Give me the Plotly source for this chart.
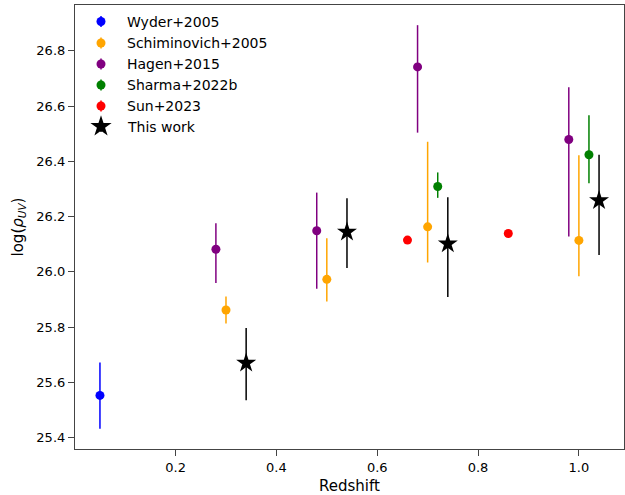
import plotly.graph_objects as go

# UV luminosity density measurements vs redshift
wyder_z = [0.05]
wyder_v = [25.553]
wyder_up = [0.119]
wyder_dn = [0.121]

schim_z = [0.3, 0.5, 0.7, 1.0]
schim_v = [25.862, 25.973, 26.163, 26.114]
schim_up = [0.049, 0.149, 0.308, 0.308]
schim_dn = [0.049, 0.080, 0.129, 0.130]

hagen_z = [0.28, 0.48, 0.68, 0.98]
hagen_v = [26.082, 26.149, 26.742, 26.479]
hagen_up = [0.094, 0.138, 0.151, 0.189]
hagen_dn = [0.122, 0.210, 0.238, 0.351]

sharma_z = [0.72, 1.02]
sharma_v = [26.309, 26.424]
sharma_up = [0.051, 0.143]
sharma_dn = [0.041, 0.103]

sun_z = [0.66, 0.86]
sun_v = [26.115, 26.139]

this_z = [0.34, 0.54, 0.74, 1.04]
this_v = [25.670, 26.144, 26.102, 26.258]
this_up = [0.127, 0.123, 0.168, 0.166]
this_dn = [0.135, 0.130, 0.193, 0.197]

labels = ["Wyder+2005", "Schiminovich+2005", "Hagen+2015",
          "Sharma+2022b", "Sun+2023", "This work"]
colors = ["blue", "orange", "purple", "green", "red", "black"]

W, H = 625, 495
M = dict(l=75, r=1, t=5, b=46)
PW, PH = W - M["l"] - M["r"], H - M["t"] - M["b"]

fig = go.Figure()

DOT = 9
STAR = 15


def add_series(z, v, color, up=None, dn=None, symbol="circle", size=DOT):
    err = None
    if up is not None:
        err = dict(type="data", symmetric=False, array=up, arrayminus=dn,
                   color=color, thickness=1.5, width=0)
    fig.add_trace(go.Scatter(
        x=z, y=v, mode="markers", showlegend=False,
        marker=dict(color=color, symbol=symbol, size=size, line=dict(width=0)),
        error_y=err,
    ))


add_series(wyder_z, wyder_v, colors[0], wyder_up, wyder_dn)
add_series(schim_z, schim_v, colors[1], schim_up, schim_dn)
add_series(hagen_z, hagen_v, colors[2], hagen_up, hagen_dn)
add_series(sharma_z, sharma_v, colors[3], sharma_up, sharma_dn)
add_series(sun_z, sun_v, colors[4])
add_series(this_z, this_v, colors[5], this_up, this_dn, symbol="star", size=STAR)

# Legend drawn on a pixel-scaled overlay axis (origin at plot top-left)
leg_x = 26
leg_text_x = 50
leg_rows = [16.5, 38, 59, 80, 101, 121.5]
for i, (lab, col) in enumerate(zip(labels, colors)):
    is_star = lab == "This work"
    fig.add_trace(go.Scatter(
        x=[leg_x], y=[leg_rows[i]], xaxis="x2", yaxis="y2", mode="markers",
        showlegend=False, hoverinfo="skip",
        marker=dict(color=col, symbol="star" if is_star else "circle",
                    size=STAR + 1 if is_star else DOT, line=dict(width=0)),
        error_y=dict(type="data", symmetric=False, array=[5.5], arrayminus=[5.5],
                     color=col, thickness=1.5, width=0),
    ))
    fig.add_annotation(x=leg_text_x, y=leg_rows[i], xref="x2", yref="y2",
                       text=lab, showarrow=False, xanchor="left", yanchor="middle",
                       font=dict(family="DejaVu Sans", size=14, color="black"))

axis_common = dict(
    showgrid=False, zeroline=False, showline=True, mirror=True,
    linecolor="#444444", linewidth=1.2,
    ticks="outside", ticklen=6, tickwidth=1.2, tickcolor="#444444",
    tickfont=dict(family="DejaVu Sans", size=13, color="black"),
)

fig.update_layout(
    width=W, height=H,
    margin=M,
    paper_bgcolor="white", plot_bgcolor="white",
    font=dict(family="DejaVu Sans", color="black"),
    showlegend=False,
    xaxis=dict(range=[0.0005, 1.0895], tickvals=[0.2, 0.4, 0.6, 0.8, 1.0],
               ticktext=["0.2", "0.4", "0.6", "0.8", "1.0"],
               title=dict(text="Redshift", font=dict(size=15), standoff=6),
               **axis_common),
    yaxis=dict(range=[25.359, 26.966],
               tickvals=[25.4, 25.6, 25.8, 26.0, 26.2, 26.4, 26.6, 26.8],
               ticktext=["25.4", "25.6", "25.8", "26.0", "26.2", "26.4", "26.6", "26.8"],
               title=dict(text="log(<i>ρ</i><sub><i>UV</i></sub>)", font=dict(size=15),
                          standoff=9),
               **axis_common),
    xaxis2=dict(range=[0, PW], overlaying="x", anchor="y2", visible=False,
                fixedrange=True),
    yaxis2=dict(range=[PH, 0], overlaying="y", anchor="x2", visible=False,
                fixedrange=True),
)

fig.write_html("out.html")
